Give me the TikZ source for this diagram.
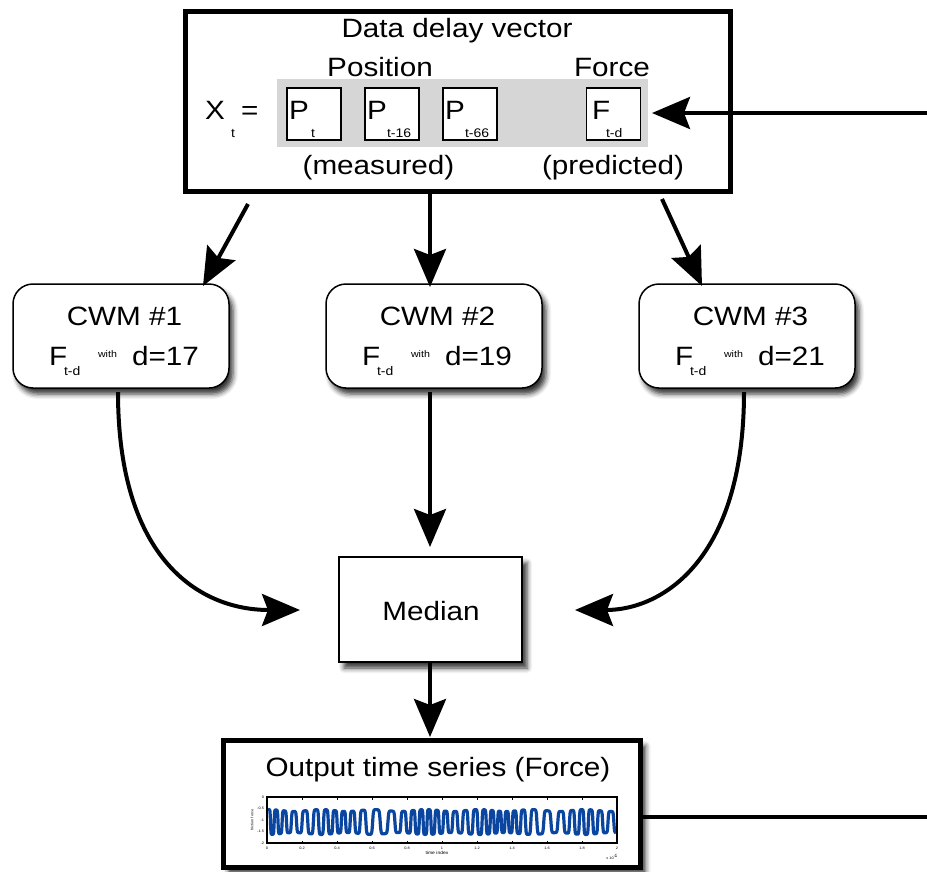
\documentclass[tikz,border=0pt]{standalone}
\usepackage{fontspec}
\setmainfont{Liberation Sans}[FakeStretch=1.12]
\usetikzlibrary{arrows.meta,shadows,shadows.blur}
\newcommand\bigT{\fontsize{26.5}{30}\selectfont}
\newcommand\smT{\fontsize{12.5}{14}\selectfont}
\newcommand\wT{\fontsize{9.5}{11}\selectfont}
\newcommand\tinyT{\fontsize{3.5}{4}\selectfont}
\newcommand\mkcwm[4]{%
  \node[cwmbox] (#1) at (#2,336) {};
  \node[bigtext] (#1t) at (#2+3.5,325) {CWM \##3};
  \node[bigtext,anchor=base west] (#1f) at (#2-72,365) {F};
  \node[smtext] (#1s) at (#2-57,375) {t-d};
  \node[wtext] (#1w) at (#2-23,357) {with};
  \node[bigtext,anchor=base west] (#1d) at (#2+11,365) {d=#4};
}
\begin{document}
\begin{tikzpicture}[x=1pt,y=-1pt,
  every node/.style={inner sep=0pt,outer sep=0pt},
  bigtext/.style={font=\bigT,anchor=base},
  smtext/.style={font=\smT,anchor=base west},
  wtext/.style={font=\wT,anchor=base west},
  tinytext/.style={font=\tinyT},
  pbox/.style={draw,line width=1.5pt,fill=white,minimum width=54pt,minimum height=52pt},
  cwmbox/.style={draw,line width=1.5pt,rounded corners=20pt,fill=white,
    minimum width=216pt,minimum height=104pt,
    blur shadow={shadow xshift=4pt,shadow yshift=-6pt,shadow blur radius=5pt,shadow opacity=80}},
  arr/.style={line width=4pt,-{Stealth[length=38pt,width=32pt,inset=6pt]}},
  conn/.style={line width=4pt},
  sig/.style={line width=3.2pt,color=sigblue,line join=round}]
\definecolor{sigblue}{RGB}{10,70,160}
\definecolor{bandgray}{RGB}{214,214,214}
\useasboundingbox (0,0) rectangle (927,871);

% top box
\node[draw,line width=5pt,minimum width=545pt,minimum height=180pt] (top) at (458,101.5) {};
\node[bigtext] (ttl) at (457,37) {Data delay vector};
\node[bigtext] (pos) at (380,76) {Position};
\node[bigtext] (frc) at (612,76) {Force};
\node[fill=bandgray,minimum width=371pt,minimum height=68pt] (band) at (462.5,113) {};
\node[bigtext,anchor=base west] (xx) at (205,119) {X};
\node[smtext] (xxs) at (231,137) {t};
\node[bigtext,anchor=base west] (eq) at (241,119) {=};
\node[pbox] (p1) at (314,114) {};
\node[pbox] (p2) at (392,114) {};
\node[pbox] (p3) at (470,114) {};
\node[pbox] (fb) at (613.5,114) {};
\node[bigtext,anchor=base west] (p1l) at (289,119) {P};
\node[smtext] (p1s) at (311,137) {t};
\node[bigtext,anchor=base west] (p2l) at (367,119) {P};
\node[smtext] (p2s) at (387,137) {t-16};
\node[bigtext,anchor=base west] (p3l) at (445,119) {P};
\node[smtext] (p3s) at (465,137) {t-66};
\node[bigtext,anchor=base west] (fbl) at (592,119) {F};
\node[smtext] (fbs) at (606,137) {t-d};
\node[bigtext] (meas) at (378.5,174) {(measured)};
\node[bigtext] (pred) at (613,174) {(predicted)};

% CWM boxes
\mkcwm{c1}{121}{1}{17}
\mkcwm{c2}{434}{2}{19}
\mkcwm{c3}{747}{3}{21}

% median
\node[draw,line width=1.2pt,fill=white,minimum width=183pt,minimum height=105pt,
  blur shadow={shadow xshift=5pt,shadow yshift=-6pt,shadow blur radius=5pt,shadow opacity=80}] (med) at (430.5,609.5) {};
\node[bigtext] (medt) at (431,620) {Median};

% output
\node[draw,line width=5pt,fill=white,minimum width=417pt,minimum height=127pt,
  blur shadow={shadow xshift=5pt,shadow yshift=-6pt,shadow blur radius=5pt,shadow opacity=80}] (out) at (432,803.5) {};
\node[bigtext] (outt) at (438,776) {Output time series (Force)};
% plot
\draw[sig] plot[domain=0:1,samples=900,variable=\t]
  ({268+348*\t},{822-12.5*(1-0.15*sin(360*3.3*\t)*sin(360*3.3*\t))*tanh(3*sin(360*36*\t+200*sin(360*1.7*\t)+110*sin(360*4.3*\t+30)))});
\node[draw,line width=2pt,minimum width=350pt,minimum height=46pt] (plotf) at (442,820) {};
\foreach \i/\l in {0/0,1/0.2,2/0.4,3/0.6,4/0.8,5/1,6/1.2,7/1.4,8/1.6,9/1.8,10/2}{
  \draw[line width=0.5pt] ({267+35*\i},797) -- ({267+35*\i},799.5);
  \draw[line width=0.5pt] ({267+35*\i},843) -- ({267+35*\i},840.5);
  \node[tinytext] (xt\i) at ({267+35*\i},848) {\l};
}
\foreach \i/\l in {0/0,1/-0.5,2/-1,3/-1.5,4/-2}{
  \node[tinytext,anchor=east] (yt\i) at (264,{797+11.5*\i}) {\l};
}
\node[tinytext,rotate=90] (ylab) at (252,820) {friction force};
\node[font=\fontsize{4.5}{5}\selectfont] (xlab) at (437,853) {time index};
\node[tinytext] (xexp) at (612,857) {x 10$^4$};

% connectors
\coordinate (a1s) at (248,204);
\coordinate (a1e) at (203,286);
\coordinate (a2s) at (430,192);
\coordinate (a2e) at (430,287);
\coordinate (a3s) at (662,199);
\coordinate (a3e) at (702,286);
\draw[arr] (a1s) -- (a1e);
\draw[arr] (a2s) -- (a2e);
\draw[arr] (a3s) -- (a3e);
\coordinate (fin) at (927,113);
\coordinate (fend) at (652,113);
\draw[arr] (fin) -- (fend);

\coordinate (l1s) at (118,392);
\coordinate (l1e) at (300,610);
\draw[arr] (l1s) .. controls (118,560) and (200,610) .. (l1e);
\coordinate (l3s) at (744,392);
\coordinate (l3e) at (575,610);
\draw[arr] (l3s) .. controls (744,560) and (662,610) .. (l3e);
\coordinate (l2s) at (430,392);
\coordinate (l2e) at (430,547);
\draw[arr] (l2s) -- (l2e);
\coordinate (m1s) at (430,662);
\coordinate (m1e) at (430,737);
\draw[arr] (m1s) -- (m1e);
\coordinate (oute) at (927,817);
\draw[conn] (oute) -- (oute -| out.east);
\end{tikzpicture}
\end{document}
